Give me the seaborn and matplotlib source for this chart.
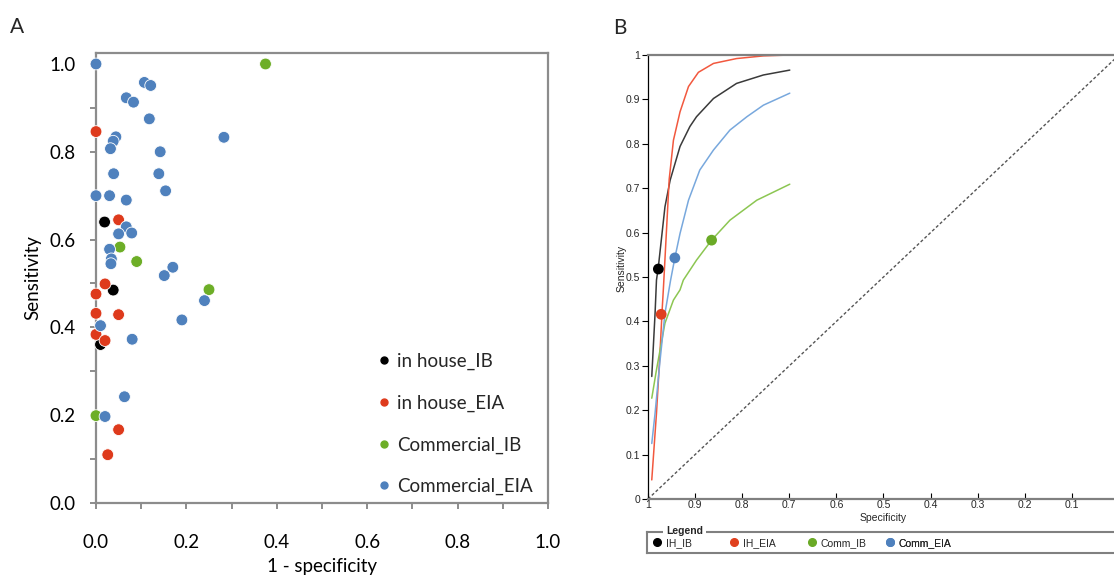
import numpy as np
import pandas as pd
import matplotlib
matplotlib.use("Agg")
import matplotlib.pyplot as plt
import seaborn as sns
from matplotlib.ticker import MultipleLocator, FuncFormatter
from matplotlib.lines import Line2D

# ---------------- Panel A data (1 - specificity, sensitivity) ----------------
groups_a = ["in house_IB", "in house_EIA", "Commercial_IB", "Commercial_EIA"]
colors_a = ["#000000", "#DE3A1C", "#6DAE27", "#4F81BD"]

ih_ib_fpr = [0.019, 0.038, 0.010]
ih_ib_sens = [0.640, 0.485, 0.361]

ih_eia_fpr = [0.000, 0.050, 0.020, 0.000, 0.000, 0.050, 0.000, 0.020, 0.050, 0.026]
ih_eia_sens = [0.846, 0.645, 0.499, 0.476, 0.432, 0.429, 0.384, 0.370, 0.167, 0.110]

comm_ib_fpr = [0.375, 0.053, 0.090, 0.250, 0.000]
comm_ib_sens = [1.000, 0.583, 0.550, 0.486, 0.199]

comm_eia_fpr = [0.000, 0.107, 0.121, 0.067, 0.083, 0.118, 0.044, 0.038, 0.283, 0.032,
                0.142, 0.039, 0.139, 0.154, 0.000, 0.030, 0.067, 0.067, 0.079, 0.050,
                0.030, 0.034, 0.033, 0.170, 0.151, 0.240, 0.190, 0.010, 0.080, 0.063,
                0.020]
comm_eia_sens = [1.000, 0.958, 0.951, 0.923, 0.913, 0.875, 0.834, 0.824, 0.833, 0.807,
                 0.800, 0.750, 0.750, 0.711, 0.700, 0.700, 0.690, 0.629, 0.615, 0.613,
                 0.578, 0.556, 0.545, 0.537, 0.518, 0.461, 0.417, 0.404, 0.373, 0.242,
                 0.197]

# ---------------- Panel B data (SROC curves: specificity, sensitivity) -------
groups_b = ["IH_IB", "IH_EIA", "Comm_IB", "Comm_EIA"]
curve_colors_b = ["#3a3a3a", "#F2583E", "#8CC652", "#78A8DD"]
point_colors_b = ["#000000", "#E0401E", "#6AAA26", "#4F81BD"]

ih_ib_curve_spec = [0.992, 0.985, 0.982, 0.978, 0.964, 0.953, 0.932, 0.911, 0.897,
                    0.861, 0.812, 0.755, 0.699]
ih_ib_curve_sens = [0.276, 0.418, 0.493, 0.523, 0.658, 0.718, 0.794, 0.839, 0.861,
                    0.902, 0.936, 0.955, 0.966]

ih_eia_curve_spec = [0.992, 0.982, 0.975, 0.970, 0.967, 0.961, 0.955, 0.946, 0.932,
                     0.914, 0.893, 0.861, 0.812, 0.755, 0.699]
ih_eia_curve_sens = [0.043, 0.193, 0.320, 0.425, 0.480, 0.600, 0.720, 0.808, 0.872,
                     0.929, 0.961, 0.981, 0.992, 0.998, 1.000]

comm_ib_curve_spec = [0.992, 0.982, 0.964, 0.946, 0.932, 0.925, 0.897, 0.865, 0.826,
                      0.769, 0.699]
comm_ib_curve_sens = [0.227, 0.291, 0.396, 0.448, 0.471, 0.493, 0.538, 0.583, 0.628,
                      0.673, 0.709]

comm_eia_curve_spec = [0.992, 0.985, 0.975, 0.964, 0.952, 0.943, 0.932, 0.914, 0.890,
                       0.861, 0.826, 0.790, 0.755, 0.699]
comm_eia_curve_sens = [0.125, 0.193, 0.306, 0.418, 0.493, 0.543, 0.598, 0.673, 0.741,
                       0.786, 0.831, 0.861, 0.887, 0.914]

summary_spec = [0.978, 0.972, 0.865, 0.943]
summary_sens = [0.518, 0.416, 0.583, 0.543]

chance_spec = [1.0, 0.0]
chance_sens = [0.0, 1.0]

# ---------------- build frames ----------------
dfA = pd.concat([
    pd.DataFrame({"fpr": f, "sens": s, "group": g})
    for f, s, g in zip([ih_ib_fpr, ih_eia_fpr, comm_ib_fpr, comm_eia_fpr],
                       [ih_ib_sens, ih_eia_sens, comm_ib_sens, comm_eia_sens],
                       groups_a)
], ignore_index=True)

curves_b = [(ih_ib_curve_spec, ih_ib_curve_sens),
            (ih_eia_curve_spec, ih_eia_curve_sens),
            (comm_ib_curve_spec, comm_ib_curve_sens),
            (comm_eia_curve_spec, comm_eia_curve_sens)]
dfB_pts = pd.DataFrame({"spec": summary_spec, "sens": summary_sens, "group": groups_b})

# ---------------- figure ----------------
sns.set_theme(style="white")
plt.rcParams['font.family'] = ['Lato', 'DejaVu Sans']

W, H = 1114, 575
fig = plt.figure(figsize=(W / 100, H / 100), dpi=100)
def fx(px): return px / W
def fy(py): return 1 - py / H

GRAY = "#8c8c8c"

# ---- Panel A ----
axA = fig.add_axes([fx(96), fy(503), fx(548) - fx(96), fy(53) - fy(503)])
sns.scatterplot(data=dfA, x="fpr", y="sens", hue="group", hue_order=groups_a,
                palette=colors_a, s=72, edgecolor="white", linewidth=0.6,
                legend=False, ax=axA, zorder=3, clip_on=False)
axA.set_xlim(0, 1.0)
axA.set_ylim(0, 1.025)
axA.xaxis.set_major_locator(MultipleLocator(0.2))
axA.xaxis.set_minor_locator(MultipleLocator(0.1))
axA.yaxis.set_major_locator(MultipleLocator(0.2))
axA.yaxis.set_minor_locator(MultipleLocator(0.1))
axA.xaxis.set_major_formatter(FuncFormatter(lambda v, p: f"{v:.1f}"))
axA.yaxis.set_major_formatter(FuncFormatter(lambda v, p: f"{v:.1f}"))
for sp in axA.spines.values():
    sp.set_color(GRAY)
    sp.set_linewidth(1.6)
axA.tick_params(axis="both", which="both", direction="out", length=4.5, width=1.4,
                color=GRAY, bottom=True, left=True)
axA.tick_params(axis="y", which="major", labelsize=13.5, pad=10, labelcolor="black")
axA.tick_params(axis="x", which="major", labelsize=13.5, pad=18, labelcolor="black")
axA.set_xlabel("1 - specificity", fontsize=13.5, color="black")
axA.set_ylabel("Sensitivity", fontsize=13.5, color="black")
axA.xaxis.set_label_coords(0.5, -0.122)
axA.yaxis.set_label_coords(-0.122, 0.5)

handlesA = [Line2D([], [], marker="o", ls="", color=c, markersize=5) for c in colors_a]
axA.legend(handlesA, groups_a, loc="upper left",
           bbox_to_anchor=(fx(376), fy(353)), bbox_transform=fig.transFigure,
           frameon=False, fontsize=13.5, handlelength=0.8, handletextpad=0.3,
           labelspacing=1.3, borderpad=0, borderaxespad=0)

fig.text(fx(10), fy(33), "A", fontsize=15, ha="left", va="baseline")

# ---- Panel B ----
fontB = ['Liberation Sans', 'DejaVu Sans']
axB = fig.add_axes([fx(648), fy(499), (1119 - 648) / W, fy(55) - fy(499)])
axB.plot(chance_spec, chance_sens, ls=(0, (2.2, 1.6)), color="#555555", lw=1.0, zorder=1)
for (sp_, se_), c in zip(curves_b, curve_colors_b):
    sns.lineplot(x=sp_, y=se_, sort=False, estimator=None, color=c, lw=1.1,
                 ax=axB, zorder=2)
sns.scatterplot(data=dfB_pts, x="spec", y="sens", hue="group", hue_order=groups_b,
                palette=point_colors_b, s=60, edgecolor="none", legend=False,
                ax=axB, zorder=4)
axB.set_xlim(1.0, 0.0)
axB.set_ylim(0.0, 1.0)
axB.xaxis.set_major_locator(MultipleLocator(0.1))
axB.yaxis.set_major_locator(MultipleLocator(0.1))
axB.xaxis.set_major_formatter(FuncFormatter(lambda v, p: f"{round(v, 2):g}" if v > 0.05 else ""))
axB.yaxis.set_major_formatter(FuncFormatter(lambda v, p: f"{round(v, 2):g}"))
axB.spines["left"].set_color("black")
axB.spines["left"].set_linewidth(0.9)
axB.spines["bottom"].set_color("#808080")
axB.spines["bottom"].set_linewidth(1.6)
axB.spines["top"].set_color("#808080")
axB.spines["top"].set_linewidth(1.6)
axB.spines["right"].set_visible(False)
axB.tick_params(axis="y", direction="out", length=4, width=0.8, color="black",
                labelsize=7.5, pad=1.5, left=True)
axB.tick_params(axis="x", direction="in", length=4, width=0.8, color="black",
                labelsize=7.5, pad=1, bottom=True)
for lab in axB.get_xticklabels() + axB.get_yticklabels():
    lab.set_family(fontB)
axB.set_xlabel("Specificity", fontsize=7.5, family=fontB)
axB.set_ylabel("Sensitivity", fontsize=7.5, family=fontB)
axB.xaxis.set_label_coords(0.5, -0.032)
axB.yaxis.set_label_coords(-0.045, 0.52)

fig.text(fx(613), fy(34), "B", fontsize=15, ha="left", va="baseline")

# ---- Panel B legend box ----
legax = fig.add_axes([fx(647), fy(553), (1130 - 647) / W, fy(532) - fy(553)])
legax.set_xticks([])
legax.set_yticks([])
legax.patch.set_alpha(0)
for k in ["top", "left", "bottom"]:
    legax.spines[k].set_color("#808080")
    legax.spines[k].set_linewidth(1.5)
legax.spines["right"].set_visible(False)
fig.text(fx(666), fy(531), "Legend", fontsize=7.5, fontweight="bold", family=fontB,
         ha="left", va="center",
         bbox=dict(facecolor="white", edgecolor="none", pad=2.5))
marker_x = [656.7, 734, 812, 890]
for g, c, mx in zip(groups_b, point_colors_b, marker_x):
    h = Line2D([], [], marker="o", ls="", color=c, markersize=5.5)
    leg = legax.legend([h], [g], loc="center left",
                       bbox_to_anchor=(fx(mx - 4.2), fy(543)),
                       bbox_transform=fig.transFigure, frameon=False,
                       handlelength=0.8, handletextpad=0.45, borderpad=0,
                       borderaxespad=0, prop={"family": fontB, "size": 7.5})
    legax.add_artist(leg)

fig.save = None
fig.savefig("out.png", dpi=100)
